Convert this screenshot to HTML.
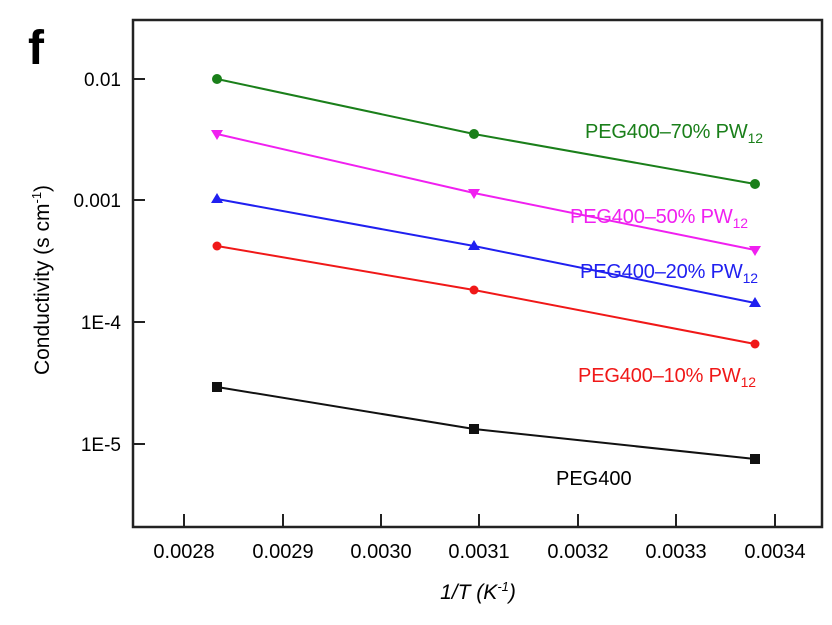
<!DOCTYPE html>
<html><head><style>
body{margin:0;background:#fff;}
svg text{font-family:"Liberation Sans",sans-serif;}
</style></head><body>
<svg width="832" height="620" viewBox="0 0 832 620" xmlns="http://www.w3.org/2000/svg">
<rect width="832" height="620" fill="#fff"/>
<text x="28" y="64" font-size="48" font-weight="bold" fill="#000">f</text>
<rect x="133" y="20" width="689" height="507" fill="none" stroke="#222" stroke-width="2.5"/>
<g stroke="#222" stroke-width="2">
<line x1="133" y1="79" x2="145" y2="79"/><line x1="133" y1="200" x2="145" y2="200"/>
<line x1="133" y1="322" x2="145" y2="322"/><line x1="133" y1="444" x2="145" y2="444"/>
<line x1="184" y1="527" x2="184" y2="514"/><line x1="283" y1="527" x2="283" y2="514"/>
<line x1="381" y1="527" x2="381" y2="514"/><line x1="479" y1="527" x2="479" y2="514"/>
<line x1="578" y1="527" x2="578" y2="514"/><line x1="676" y1="527" x2="676" y2="514"/>
<line x1="775" y1="527" x2="775" y2="514"/>
</g>
<g font-size="19" fill="#000" text-anchor="end">
<text x="121" y="86">0.01</text><text x="121" y="207">0.001</text>
<text x="121" y="329">1E-4</text><text x="121" y="451">1E-5</text>
</g>
<g font-size="20" fill="#000" text-anchor="middle">
<text x="184" y="558">0.0028</text><text x="283" y="558">0.0029</text><text x="381" y="558">0.0030</text>
<text x="479" y="558">0.0031</text><text x="578" y="558">0.0032</text><text x="676" y="558">0.0033</text>
<text x="775" y="558">0.0034</text>
<text x="478" y="599" font-size="21" font-style="italic">1/T (K<tspan font-size="13" dy="-8">-1</tspan><tspan dy="8">)</tspan></text>
</g>
<text transform="translate(49,280) rotate(-90)" font-size="21" text-anchor="middle">Conductivity (s cm<tspan font-size="13" dy="-8">-1</tspan><tspan dy="8">)</tspan></text>
<g stroke-width="2" fill="none">
<polyline points="217,79 474,134 755,184" stroke="#1a7f1a"/>
<polyline points="217,134 474,193 755,250" stroke="#f020f0"/>
<polyline points="217,199 474,246 755,303" stroke="#2020f0"/>
<polyline points="217,246 474,290 755,344" stroke="#f01818"/>
<polyline points="217,387 474,429 755,459" stroke="#111"/>
</g>
<g fill="#1a7f1a"><circle cx="217" cy="79" r="5"/><circle cx="474" cy="134" r="5"/><circle cx="755" cy="184" r="5"/></g>
<g fill="#f020f0"><path d="M211,130 h12 l-6,10z"/><path d="M468,189 h12 l-6,10z"/><path d="M749,246 h12 l-6,10z"/></g>
<g fill="#2020f0"><path d="M211,203 h12 l-6,-10z"/><path d="M468,250 h12 l-6,-10z"/><path d="M749,307 h12 l-6,-10z"/></g>
<g fill="#f01818"><circle cx="217" cy="246" r="4.5"/><circle cx="474" cy="290" r="4.5"/><circle cx="755" cy="344" r="4.5"/></g>
<g fill="#111"><rect x="212" y="382" width="10" height="10"/><rect x="469" y="424" width="10" height="10"/><rect x="750" y="454" width="10" height="10"/></g>
<g font-size="20">
<text x="585" y="138" fill="#1a7f1a" textLength="178">PEG400–70% PW<tspan font-size="14" dy="5">12</tspan></text>
<text x="570" y="223" fill="#f020f0" textLength="178">PEG400–50% PW<tspan font-size="14" dy="5">12</tspan></text>
<text x="580" y="278" fill="#2020f0" textLength="178">PEG400–20% PW<tspan font-size="14" dy="5">12</tspan></text>
<text x="578" y="382" fill="#f01818" textLength="178">PEG400–10% PW<tspan font-size="14" dy="5">12</tspan></text>
<text x="556" y="485" fill="#000">PEG400</text>
</g>
</svg>
</body></html>
